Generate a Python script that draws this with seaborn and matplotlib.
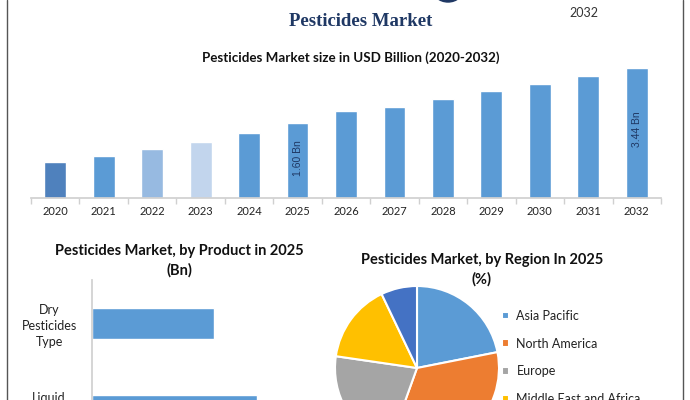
import matplotlib
matplotlib.use("Agg")
import matplotlib.pyplot as plt
import seaborn as sns
import pandas as pd
from matplotlib.lines import Line2D
from matplotlib.patches import Ellipse

# Market size by year (USD Bn)
years = ["2020", "2021", "2022", "2023", "2024", "2025", "2026",
         "2027", "2028", "2029", "2030", "2031", "2032"]
market_size = [0.95, 1.11, 1.29, 1.48, 1.72, 1.98, 2.30,
               2.41, 2.62, 2.83, 3.02, 3.23, 3.44]
bar_colors = ["#4f81bd", "#5b9bd5", "#97bae1", "#c2d5ed"] + ["#5b9bd5"] * 9
bar_labels = {"2025": "1.60 Bn", "2032": "3.44 Bn"}

# Product split in 2025
products = ["Dry\nPesticides\nType", "Liquid\nPesticides\nType"]
product_values = [0.68, 0.92]

# Regional share in 2025 (%)
regions = ["Asia Pacific", "North America", "Europe",
           "Middle East and Africa", "South America"]
region_share = [21.9, 33.6, 21.8, 15.6, 7.1]
region_colors = ["#5b9bd5", "#ed7d31", "#a5a5a5", "#ffc000", "#4472c4"]

sns.set_theme(style="white")
plt.rcParams["font.family"] = ["Lato", "DejaVu Sans"]
W, H = 690, 400
fig = plt.figure(figsize=(W / 100, H / 100), dpi=100)


def box(x0, y_top, w, h):
    # pixel box (from top-left) -> figure fraction rect
    return [x0 / W, (H - y_top - h) / H, w / W, h / H]


# ---- top: market size bars ----
ax1 = fig.add_axes(box(31, 197.7 - 143.3, 630, 143.3))
df = pd.DataFrame({"year": years, "size": market_size})
sns.barplot(data=df, x="year", y="size", hue="year", palette=bar_colors,
            legend=False, width=0.45, saturation=1, ax=ax1)
ax1.set_xlim(-0.5, len(years) - 0.5)
ax1.set_ylim(0, 3.8)
ax1.set_xlabel("")
ax1.set_ylabel("")
ax1.set_yticks([])
for s in ["top", "right", "left"]:
    ax1.spines[s].set_visible(False)
ax1.spines["bottom"].set_color("#d0d0d0")
ax1.tick_params(axis="x", which="major", length=0, pad=6, labelsize=8, labelcolor="#222222")
ax1.set_xticks([i - 0.5 for i in range(len(years) + 1)], minor=True)
ax1.tick_params(axis="x", which="minor", bottom=True, length=4, color="#d0d0d0")
for i, y in enumerate(years):
    if y in bar_labels:
        ax1.text(i, market_size[i] * 0.53, bar_labels[y], rotation=90,
                 ha="center", va="center", fontsize=7.5, color="#1f3864",
                 family="Liberation Sans")

# ---- bottom left: product bars ----
ax2 = fig.add_axes(box(92, 280, 233, 174))
dfp = pd.DataFrame({"product": products, "value": product_values})
sns.barplot(data=dfp, y="product", x="value", orient="h", color="#5b9bd5",
            saturation=1, width=0.345, ax=ax2)
ax2.set_xlim(0, 1.3)
ax2.set_ylim(1.5, -0.5)
ax2.set_xlabel("")
ax2.set_ylabel("")
ax2.set_xticks([])
for s in ["top", "right", "bottom"]:
    ax2.spines[s].set_visible(False)
ax2.spines["left"].set_color("#d0d0d0")
ax2.tick_params(axis="y", length=0, pad=11, labelsize=9, labelcolor="#222222")
for t in ax2.get_yticklabels():
    t.set_multialignment("center")
    t.set_linespacing(1.4)

# ---- bottom right: region pie ----
ax3 = fig.add_axes(box(335, 286, 164, 164))
wedges, _ = ax3.pie(region_share, colors=region_colors, startangle=90,
                    counterclock=False,
                    wedgeprops=dict(edgecolor="white", linewidth=1.5))
ax3.set_xlim(-1, 1)
ax3.set_ylim(-1, 1)
ax3.set_aspect("equal")
fig.legend(wedges, regions, loc="upper left",
           bbox_to_anchor=(502 / W, (H - 310) / H), frameon=False,
           fontsize=9, handlelength=0.55, handleheight=0.55,
           handletextpad=0.6, labelspacing=1.25, borderpad=0,
           borderaxespad=0, labelcolor="#222222")

# ---- titles ----
fig.text(361 / W, 1 - 22 / H, "Pesticides Market", ha="center", va="center",
         fontsize=13.5, fontweight="bold", color="#1f3864",
         family="Liberation Serif")
fig.text(351 / W, 1 - 58 / H, "Pesticides Market size in USD Billion (2020-2032)",
         ha="center", va="center", fontsize=9.6, fontweight="bold", color="#111111")
fig.text(179 / W, 1 - 260.5 / H, "Pesticides Market, by Product in 2025\n(Bn)",
         ha="center", va="center", fontsize=10.5, fontweight="bold",
         color="#111111", linespacing=1.45)
fig.text(482 / W, 1 - 270 / H, "Pesticides Market, by Region In 2025\n(%)",
         ha="center", va="center", fontsize=10.5, fontweight="bold",
         color="#111111", linespacing=1.4)
fig.text(584 / W, 1 - 13 / H, "2032", ha="center", va="center",
         fontsize=9, color="#333333")

# ---- decorations: cut-off logo and frame ----
fig.add_artist(Ellipse((448 / W, 1 + 12 / H), 32 / W, 28 / H,
                       transform=fig.transFigure, color="#1f3864"))
fig.add_artist(Line2D([7 / W, 7 / W], [0, 1], transform=fig.transFigure,
                      color="#555555", lw=1))
fig.add_artist(Line2D([683 / W, 683 / W], [0, 1], transform=fig.transFigure,
                      color="#555555", lw=1))

fig.savefig("out.png", dpi=100)
